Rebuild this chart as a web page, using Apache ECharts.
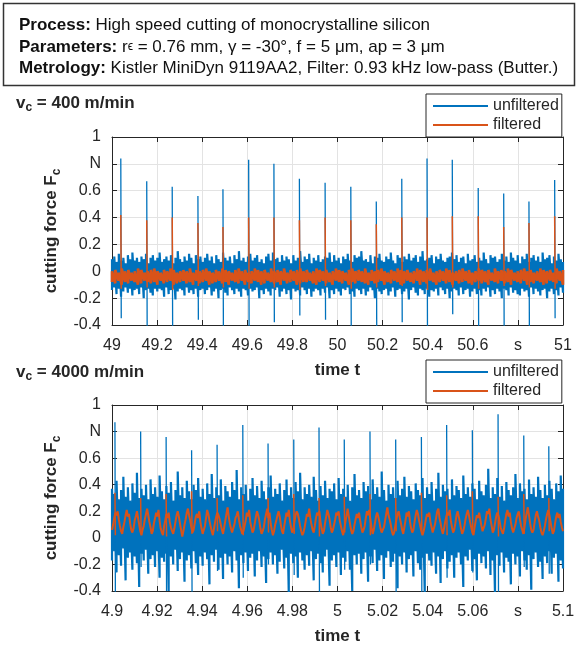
<!DOCTYPE html>
<html>
<head>
<meta charset="utf-8">
<script src="https://cdn.jsdelivr.net/npm/echarts@6.0.0/dist/echarts.min.js"></script>
<style>
html, body { margin: 0; padding: 0; background: #fff; }
#chart { width: 579px; height: 646px; }
</style>
</head>
<body>
<div id="chart"></div>
<script>
// panel 1: vc = 400 m/min, 49 .. 51 s
// the records are far denser than the screen, so they are read as
// upper / lower envelope per ~2 px column
var range1 = [49, 51];
var rawHi1 = [
0.09,0.11,0.07,0.13,0.08,0.10,0.06,0.12,0.09,0.14,0.08,0.10,0.07,0.11,0.09,0.13,0.06,0.10,0.12,0.08,
0.10,0.14,0.07,0.09,0.11,0.08,0.12,0.06,0.10,0.15,0.09,0.07,0.11,0.08,0.13,0.10,0.06,0.12,0.09,0.11,
0.07,0.10,0.13,0.08,0.11,0.06,0.12,0.09,0.07,0.14,0.10,0.08,0.11,0.06,0.12,0.09,0.15,0.08,0.10,0.07,
0.11,0.13,0.08,0.10,0.12,0.07,0.09,0.06,0.11,0.13,0.08,0.14,0.09,0.10,0.07,0.12,0.08,0.11,0.09,0.06,
0.12,0.08,0.10,0.15,0.07,0.11,0.09,0.13,0.06,0.10,0.08,0.12,0.07,0.09,0.11,0.10,0.14,0.07,0.12,0.08,
0.10,0.06,0.11,0.09,0.13,0.08,0.07,0.12,0.10,0.11,0.15,0.08,0.09,0.07,0.12,0.06,0.11,0.10,0.13,0.08,
0.07,0.11,0.09,0.14,0.08,0.06,0.12,0.10,0.07,0.11,0.09,0.13,0.08,0.10,0.12,0.07,0.11,0.15,0.08,0.09,
0.10,0.12,0.06,0.11,0.09,0.13,0.08,0.07,0.10,0.11,0.14,0.09,0.12,0.07,0.10,0.11,0.06,0.13,0.08,0.09,
0.12,0.07,0.10,0.08,0.14,0.09,0.06,0.12,0.10,0.11,0.07,0.09,0.13,0.08,0.11,0.07,0.14,0.10,0.08,0.12,
0.06,0.11,0.09,0.13,0.07,0.10,0.12,0.08,0.11,0.07,0.14,0.09,0.10,0.12,0.06,0.11,0.08,0.13,0.09,0.07
];
var rawLo1 = [
-0.14,-0.12,-0.17,-0.13,-0.19,-0.15,-0.12,-0.16,-0.13,-0.18,-0.14,-0.13,-0.17,-0.12,-0.20,-0.14,-0.13,-0.16,-0.18,-0.13,
-0.15,-0.13,-0.14,-0.19,-0.12,-0.17,-0.14,-0.13,-0.21,-0.15,-0.13,-0.14,-0.18,-0.12,-0.16,-0.14,-0.17,-0.13,-0.19,-0.14,
-0.13,-0.17,-0.14,-0.12,-0.18,-0.15,-0.13,-0.20,-0.14,-0.13,-0.16,-0.18,-0.12,-0.14,-0.17,-0.13,-0.15,-0.19,-0.13,-0.14,
-0.18,-0.13,-0.15,-0.14,-0.12,-0.20,-0.14,-0.17,-0.13,-0.15,-0.18,-0.13,-0.14,-0.12,-0.19,-0.15,-0.13,-0.17,-0.14,-0.21,
-0.13,-0.15,-0.14,-0.18,-0.12,-0.14,-0.17,-0.13,-0.19,-0.15,-0.13,-0.14,-0.18,-0.13,-0.16,-0.12,-0.20,-0.14,-0.17,-0.13,
-0.15,-0.18,-0.13,-0.14,-0.12,-0.17,-0.15,-0.19,-0.13,-0.14,-0.17,-0.13,-0.18,-0.15,-0.12,-0.14,-0.20,-0.13,-0.15,-0.17,
-0.14,-0.13,-0.18,-0.15,-0.12,-0.19,-0.14,-0.13,-0.17,-0.15,-0.13,-0.21,-0.14,-0.12,-0.16,-0.18,-0.13,-0.14,-0.17,-0.13,
-0.19,-0.14,-0.15,-0.13,-0.18,-0.12,-0.14,-0.17,-0.13,-0.20,-0.15,-0.13,-0.14,-0.18,-0.12,-0.17,-0.14,-0.13,-0.19,-0.15,
-0.13,-0.17,-0.14,-0.18,-0.13,-0.15,-0.12,-0.19,-0.14,-0.17,-0.13,-0.15,-0.20,-0.13,-0.14,-0.18,-0.12,-0.16,-0.14,-0.17,
-0.18,-0.13,-0.15,-0.14,-0.19,-0.12,-0.17,-0.13,-0.15,-0.18,-0.14,-0.13,-0.20,-0.15,-0.13,-0.17,-0.14,-0.18,-0.12,-0.16
];
var filtHi1 = [
0.00,0.01,-0.01,0.02,0.00,0.01,-0.01,0.00,0.02,0.01,-0.01,0.00,0.01,0.02,0.00,-0.01,0.01,0.00,0.02,0.01,
-0.01,0.00,0.01,0.00,0.02,-0.01,0.01,0.00,0.01,0.02,0.00,-0.01,0.01,0.00,0.02,0.01,0.00,-0.01,0.01,0.02,
0.00,0.01,-0.01,0.00,0.02,0.01,0.00,0.01,-0.01,0.02,0.00,0.01,0.00,0.02,-0.01,0.01,0.00,0.01,0.02,0.00,
0.01,-0.01,0.00,0.02,0.01,0.00,0.01,-0.01,0.00,0.02,0.01,0.00,-0.01,0.01,0.02,0.00,0.01,0.00,0.02,-0.01,
0.01,0.00,0.01,0.02,0.00,-0.01,0.01,0.00,0.02,0.01,0.00,0.01,-0.01,0.00,0.02,0.01,0.00,0.01,0.02,-0.01,
0.00,0.01,0.00,0.02,0.01,-0.01,0.00,0.01,0.02,0.00,0.01,-0.01,0.00,0.02,0.01,0.00,0.01,-0.01,0.02,0.00,
0.01,0.00,0.02,0.01,-0.01,0.00,0.01,0.02,0.00,0.01,-0.01,0.00,0.02,0.01,0.00,0.01,-0.01,0.02,0.00,0.01
];
var filtLo1 = [
-0.08,-0.09,-0.07,-0.10,-0.08,-0.09,-0.07,-0.08,-0.10,-0.09,-0.07,-0.08,-0.09,-0.08,-0.10,-0.07,-0.09,-0.08,-0.07,-0.10,
-0.09,-0.08,-0.07,-0.09,-0.08,-0.10,-0.07,-0.09,-0.08,-0.07,-0.10,-0.09,-0.08,-0.07,-0.09,-0.08,-0.10,-0.07,-0.08,-0.09,
-0.07,-0.10,-0.08,-0.09,-0.07,-0.08,-0.10,-0.09,-0.07,-0.08,-0.09,-0.08,-0.10,-0.07,-0.09,-0.08,-0.07,-0.10,-0.09,-0.08,
-0.08,-0.07,-0.09,-0.10,-0.08,-0.07,-0.09,-0.08,-0.10,-0.07,-0.08,-0.09,-0.07,-0.10,-0.08,-0.09,-0.07,-0.08,-0.09,-0.10,
-0.07,-0.09,-0.08,-0.07,-0.10,-0.08,-0.09,-0.07,-0.08,-0.10,-0.09,-0.07,-0.08,-0.09,-0.07,-0.10,-0.08,-0.09,-0.07,-0.08,
-0.10,-0.08,-0.07,-0.09,-0.08,-0.10,-0.07,-0.09,-0.08,-0.07,-0.09,-0.10,-0.08,-0.07,-0.09,-0.08,-0.10,-0.07,-0.08,-0.09,
-0.07,-0.09,-0.08,-0.10,-0.07,-0.08,-0.09,-0.07,-0.10,-0.08,-0.09,-0.07,-0.08,-0.10,-0.09,-0.07,-0.08,-0.09,-0.07,-0.10
];
var spikeT1 = [49.039, 49.154, 49.267, 49.381, 49.492, 49.606, 49.718, 49.831, 49.945, 50.059, 50.172, 50.285, 50.397, 50.509, 50.624, 50.737, 50.849, 50.963];
var rawPeak1 = [0.84, 0.67, 0.63, 0.56, 0.61, 0.83, 0.80, 0.69, 0.66, 0.63, 0.52, 0.69, 0.84, 0.83, 0.62, 0.58, 0.52, 0.68];
var rawDip1 = [-0.35, -0.45, -0.45, -0.36, -0.42, -0.45, -0.38, -0.33, -0.36, -0.45, -0.45, -0.38, -0.45, -0.32, -0.45, -0.42, -0.45, -0.35];
var filtPeak1 = [0.42, 0.38, 0.40, 0.36, 0.33, 0.40, 0.40, 0.38, 0.40, 0.38, 0.35, 0.40, 0.40, 0.41, 0.41, 0.33, 0.36, 0.41];
var filtDip1 = [-0.13, -0.12, -0.14, -0.11, -0.12, -0.13, -0.12, -0.14, -0.11, -0.13, -0.12, -0.11, -0.14, -0.12, -0.13, -0.11, -0.12, -0.13];

// panel 2: vc = 4000 m/min, 4.9 .. 5.1 s
var range2 = [4.9, 5.1];
var rawHi2 = [
0.37,0.33,0.43,0.29,0.36,0.46,0.31,0.38,0.28,0.41,0.34,0.49,0.30,0.37,0.32,0.40,0.29,0.44,0.33,0.38,
0.31,0.47,0.35,0.29,0.39,0.34,0.42,0.28,0.36,0.50,0.32,0.38,0.30,0.43,0.35,0.29,0.40,0.36,0.45,0.31,
0.37,0.29,0.41,0.33,0.48,0.30,0.38,0.32,0.44,0.28,0.39,0.35,0.31,0.42,0.36,0.51,0.29,0.38,0.33,0.40,
0.28,0.37,0.45,0.32,0.39,0.30,0.43,0.35,0.29,0.38,0.47,0.31,0.37,0.33,0.41,0.28,0.36,0.44,0.32,0.38,
0.30,0.42,0.35,0.49,0.29,0.38,0.33,0.40,0.31,0.46,0.36,0.28,0.39,0.32,0.43,0.30,0.37,0.35,0.41,0.29,
0.45,0.33,0.37,0.31,0.40,0.28,0.38,0.48,0.32,0.36,0.30,0.42,0.35,0.39,0.29,0.44,0.33,0.38,0.31,0.50,
0.36,0.28,0.40,0.33,0.38,0.30,0.43,0.32,0.37,0.46,0.31,0.39,0.35,0.29,0.41,0.36,0.32,0.45,0.30,0.38,
0.33,0.42,0.28,0.37,0.49,0.31,0.40,0.35,0.37,0.29,0.44,0.32,0.39,0.36,0.30,0.47,0.33,0.38,0.31,0.41,
0.37,0.29,0.43,0.35,0.32,0.40,0.52,0.30,0.38,0.33,0.45,0.31,0.39,0.28,0.42,0.36,0.32,0.38,0.48,0.30,
0.41,0.35,0.37,0.29,0.44,0.33,0.38,0.31,0.46,0.36,0.30,0.40,0.32,0.43,0.37,0.29,0.41,0.35,0.47,0.37
];
var rawLo2 = [
-0.17,-0.10,-0.26,-0.13,-0.21,-0.08,-0.32,-0.15,-0.11,-0.24,-0.14,-0.19,-0.37,-0.12,-0.17,-0.09,-0.27,-0.16,-0.13,-0.22,
-0.10,-0.30,-0.15,-0.18,-0.12,-0.40,-0.14,-0.20,-0.09,-0.25,-0.16,-0.11,-0.33,-0.17,-0.13,-0.23,-0.10,-0.19,-0.28,-0.14,
-0.21,-0.11,-0.16,-0.35,-0.13,-0.18,-0.09,-0.24,-0.15,-0.31,-0.12,-0.20,-0.14,-0.26,-0.10,-0.17,-0.38,-0.13,-0.19,-0.11,
-0.25,-0.15,-0.12,-0.29,-0.17,-0.10,-0.22,-0.14,-0.34,-0.16,-0.11,-0.20,-0.13,-0.27,-0.18,-0.09,-0.23,-0.15,-0.42,-0.12,
-0.19,-0.14,-0.30,-0.11,-0.17,-0.24,-0.13,-0.21,-0.10,-0.32,-0.16,-0.12,-0.19,-0.26,-0.14,-0.09,-0.36,-0.17,-0.13,-0.22,
-0.11,-0.28,-0.15,-0.18,-0.10,-0.24,-0.40,-0.13,-0.20,-0.12,-0.27,-0.16,-0.11,-0.33,-0.14,-0.19,-0.09,-0.25,-0.17,-0.13,
-0.31,-0.15,-0.10,-0.22,-0.18,-0.12,-0.38,-0.14,-0.20,-0.11,-0.26,-0.16,-0.13,-0.29,-0.10,-0.19,-0.24,-0.15,-0.42,-0.12,
-0.17,-0.21,-0.11,-0.27,-0.14,-0.34,-0.16,-0.10,-0.23,-0.18,-0.13,-0.30,-0.15,-0.11,-0.20,-0.37,-0.14,-0.17,-0.09,-0.25,
-0.16,-0.32,-0.12,-0.19,-0.14,-0.23,-0.10,-0.28,-0.17,-0.43,-0.13,-0.21,-0.11,-0.26,-0.15,-0.18,-0.35,-0.12,-0.20,-0.14,
-0.29,-0.10,-0.17,-0.24,-0.13,-0.39,-0.16,-0.11,-0.22,-0.18,-0.31,-0.14,-0.19,-0.10,-0.27,-0.15,-0.12,-0.33,-0.17,-0.23
];
var filtWave2 = [
0.06,0.10,0.15,0.19,0.17,0.20,0.14,0.09,0.05, 0.03,0.08,0.12,0.17,0.21,0.16,0.18,0.11,0.06,
0.04,0.07,0.13,0.16,0.20,0.15,0.10,0.05,0.02,0.06, 0.09,0.14,0.18,0.22,0.17,0.12,0.08,0.03,
0.05,0.11,0.15,0.19,0.16,0.21,0.13,0.07,0.04, 0.02,0.09,0.13,0.18,0.15,0.19,0.12,0.08,0.05,0.03,
0.07,0.12,0.17,0.20,0.16,0.11,0.06,0.01, 0.05,0.10,0.14,0.19,0.22,0.17,0.13,0.08,0.04,
0.06,0.11,0.16,0.18,0.15,0.20,0.12,0.07,0.03, 0.04,0.09,0.15,0.21,0.18,0.13,0.09,0.05,0.02,
0.07,0.12,0.16,0.19,0.17,0.14,0.10,0.06, 0.03,0.08,0.13,0.18,0.23,0.16,0.11,0.07,0.04,
0.05,0.10,0.15,0.17,0.20,0.14,0.09,0.06,0.03,0.05, 0.09,0.13,0.19,0.16,0.21,0.12,0.08,0.04,
0.06,0.11,0.16,0.20,0.17,0.13,0.07,0.03,0.05, 0.08,0.14,0.18,0.22,0.15,0.19,0.11,0.06,0.02,
0.05,0.10,0.13,0.17,0.20,0.16,0.10,0.05, 0.03,0.09,0.14,0.19,0.16,0.21,0.13,0.08,0.04,
0.06,0.12,0.17,0.20,0.18,0.14,0.09,0.05,0.02,0.04, 0.08,0.13,0.18,0.16,0.22,0.15,0.10,0.06,
0.04,0.09,0.15,0.19,0.17,0.20,0.12,0.07,0.03, 0.05,0.11,0.16,0.21,0.18,0.14,0.08,0.04,0.06,
0.10,0.14,0.19,0.17,0.20,0.13,0.09,0.05, 0.02,0.07,0.12,0.17,0.22,0.16,0.11,0.06,0.03,
0.05,0.10,0.14,0.18,0.15,0.19,0.13,0.08,0.04,0.06, 0.09,0.15,0.20,0.17,0.21,0.14,0.08,0.03,
0.06,0.11,0.16,0.19,0.16,0.12,0.07,0.04,0.05, 0.08,0.13,0.18,0.23,0.17,0.14,0.10,0.05,0.02,
0.04,0.09,0.14,0.18,0.20,0.15,0.11,0.06, 0.03,0.08,0.13,0.19,0.16,0.20,0.12,0.07,0.04,
0.06,0.12,0.17,0.21,0.18,0.13,0.09,0.05,0.02,0.05, 0.09,0.14,0.18,0.16,0.19,0.12,0.08,0.04,
0.05,0.10,0.15,0.20,0.22,0.15,0.11,0.06,0.03, 0.07,0.12,0.16,0.19,0.17,0.21,0.13,0.08,0.04,
0.06,0.11,0.17,0.20,0.16,0.12,0.07,0.03, 0.05,0.09,0.14,0.18,0.21,0.17,0.12,0.08,0.04,
0.02,0.08,0.13,0.17,0.15,0.19,0.14,0.09,0.05,0.06, 0.10,0.15,0.20,0.18,0.22,0.14,0.09,0.04,
0.06,0.11,0.16,0.19,0.17,0.13,0.08,0.05,0.03, 0.07,0.13,0.18,0.21,0.16,0.19,0.12,0.07,0.04,
0.05,0.10,0.15,0.18,0.20,0.14,0.09,0.06, 0.03,0.08,0.14,0.19,0.23,0.17,0.11,0.06,0.04,
0.06,0.12,0.17,0.20,0.16,0.13,0.08,0.04,0.02,0.05, 0.09,0.14,0.18,0.21,0.17,0.12,0.07,0.03,
0.05,0.11,0.16,0.19,0.15,0.18,0.12,0.08,0.05
];
var spikeT2 = [4.9013, 4.9127, 4.9240, 4.9353, 4.9466, 4.9580, 4.9692, 4.9806, 4.9918, 5.0030, 5.0144, 5.0258, 5.0372, 5.0484, 5.0598, 5.0712, 5.0826, 5.0937];
var rawPeak2 = [0.87, 0.80, 0.76, 0.66, 0.70, 0.85, 0.71, 0.74, 0.83, 0.74, 0.80, 0.74, 0.76, 0.85, 0.81, 0.93, 0.77, 0.69];
var rawDip2 = [-0.42, -0.22, -0.40, -0.41, -0.25, -0.30, -0.20, -0.28, -0.42, -0.24, -0.20, -0.42, -0.43, -0.30, -0.26, -0.42, -0.22, -0.27];
var filtPeak2 = [0.34, 0.30, 0.33, 0.35, 0.30, 0.32, 0.30, 0.33, 0.30, 0.31, 0.33, 0.30, 0.34, 0.32, 0.35, 0.31, 0.33, 0.30];
var filtDip2 = [0.02, 0.04, 0.01, 0.03, 0.05, 0.02, 0.04, 0.03, 0.01, 0.04, 0.02, 0.05, 0.03, 0.02, 0.04, 0.01, 0.03, 0.05];

var yTicks = { min: -0.4, max: 1, interval: 0.2 };

var BLUE = '#0072BD';
var ORANGE = '#D95319';
var INK = '#262626';
var FONT = '"Liberation Sans", Arial, Helvetica, sans-serif';

function timeAt(range, i, n) {
    return range[0] + (range[1] - range[0]) * i / (n - 1);
}

// each column drawn low -> high, then on to the next column
function envelope(range, lo, hi) {
    var pts = [];
    for (var i = 0; i < lo.length; i++) {
        var t = timeAt(range, i, lo.length);
        pts.push([t, lo[i]]);
        pts.push([t, hi[i]]);
    }
    return pts;
}

function trace(range, vals) {
    var pts = [];
    for (var i = 0; i < vals.length; i++) {
        pts.push([timeAt(range, i, vals.length), vals[i]]);
    }
    return pts;
}

// one stroke per impact, peak down to the rebound, broken between impacts
function spikes(spT, spHi, spLo, gap) {
    var pts = [];
    for (var k = 0; k < spT.length; k++) {
        pts.push([spT[k], spHi[k]]);
        pts.push([spT[k] + gap, spLo[k]]);
        pts.push([spT[k] + 2 * gap, null]);
    }
    return pts;
}

function near(a, b) {
    return Math.abs(a - b) < 1e-6;
}

function xAxes(g, range, interval, unitAt) {
    var fmt = function (v) {
        if (near(v, unitAt)) return 's';
        return +v.toFixed(3) + '';
    };
    return [{
        gridIndex: g, type: 'value', min: range[0], max: range[1], interval: interval,
        axisLine: { show: true, onZero: false, lineStyle: { color: INK, width: 1 } },
        axisTick: { inside: true, length: 5, lineStyle: { color: INK } },
        axisLabel: { color: INK, fontSize: 16, fontFamily: FONT, margin: 13, formatter: fmt, showMinLabel: true, showMaxLabel: true },
        splitLine: { show: true, lineStyle: { color: '#e3e3e3', width: 1 } },
        name: 'time t', nameLocation: 'middle', nameGap: 37,
        nameTextStyle: { color: INK, fontSize: 17, fontWeight: 'bold', fontFamily: FONT }
    }, {
        gridIndex: g, type: 'value', position: 'top', min: range[0], max: range[1], interval: interval,
        axisLine: { show: true, onZero: false, lineStyle: { color: INK, width: 1 } },
        axisTick: { inside: true, length: 5, lineStyle: { color: INK } },
        axisLabel: { show: false },
        splitLine: { show: false }
    }];
}

function yAxes(g) {
    var fmt = function (v) {
        if (near(v, 0.8)) return 'N';
        return +v.toFixed(2) + '';
    };
    return [{
        gridIndex: g, type: 'value', min: yTicks.min, max: yTicks.max, interval: yTicks.interval,
        axisLine: { show: true, onZero: false, lineStyle: { color: INK, width: 1 } },
        axisTick: { inside: true, length: 5, lineStyle: { color: INK } },
        axisLabel: { color: INK, fontSize: 16, fontFamily: FONT, margin: 11, formatter: fmt, showMinLabel: true, showMaxLabel: true },
        splitLine: { show: true, lineStyle: { color: '#e3e3e3', width: 1 } },
        name: '{a|cutting force F}{b|c}', nameLocation: 'middle', nameGap: 49,
        nameTextStyle: {
            rich: {
                a: { color: INK, fontSize: 17, fontWeight: 'bold', fontFamily: FONT },
                b: { color: INK, fontSize: 12, fontWeight: 'bold', fontFamily: FONT, padding: [10, 0, 0, 0] }
            }
        }
    }, {
        gridIndex: g, type: 'value', position: 'right', min: yTicks.min, max: yTicks.max, interval: yTicks.interval,
        axisLine: { show: true, onZero: false, lineStyle: { color: INK, width: 1 } },
        axisTick: { inside: true, length: 5, lineStyle: { color: INK } },
        axisLabel: { show: false },
        splitLine: { show: false }
    }];
}

function legendAt(top) {
    return {
        data: ['unfiltered', 'filtered'], orient: 'vertical', left: 426, top: top,
        icon: 'rect', itemWidth: 55, itemHeight: 2, itemGap: 3,
        padding: [4, 3, 4, 7],
        backgroundColor: '#fff', borderColor: INK, borderWidth: 1, borderRadius: 0,
        textStyle: { color: INK, fontSize: 16, fontFamily: FONT, lineHeight: 16 },
        z: 10, selectedMode: false
    };
}

function line(name, color, g, data, width) {
    return {
        name: name, type: 'line', xAxisIndex: g * 2, yAxisIndex: g * 2,
        data: data, showSymbol: false, symbol: 'none', connectNulls: false,
        lineStyle: { color: color, width: width, join: 'bevel' }, itemStyle: { color: color },
        animation: false
    };
}

var subTitle = function (txt, top) {
    return {
        text: '{v|v}{s|c}{v| = ' + txt + '}', left: 11, top: top,
        textStyle: {
            rich: {
                v: { color: INK, fontSize: 17, fontWeight: 'bold', fontFamily: FONT },
                s: { color: INK, fontSize: 12, fontWeight: 'bold', fontFamily: FONT, padding: [10, 0, 0, 0] }
            }
        }
    };
};

var chart = echarts.init(document.getElementById('chart'), null, { renderer: 'canvas' });

var option = {
    backgroundColor: '#fff',
    animation: false,
    title: [{
        text: '{b|Process:} High speed cutting of monocrystalline silicon\n' +
              '{b|Parameters:} r{e|\u03f5} = 0.76 mm, \u03b3 = -30\u00b0, f = 5 \u03bcm, ap = 3 \u03bcm\n' +
              '{b|Metrology:} Kistler MiniDyn 9119AA2, Filter: 0.93 kHz low-pass (Butter.)',
        left: 14, top: 10,
        textStyle: {
            color: '#111', fontSize: 17, fontWeight: 'normal', fontFamily: FONT, lineHeight: 21.3,
            rich: {
                b: { color: '#111', fontSize: 17, fontWeight: 'bold', fontFamily: FONT, lineHeight: 21.3 },
                e: { color: '#111', fontSize: 12, fontFamily: FONT, lineHeight: 21.3 }
            }
        }
    }, subTitle('400 m/min', 87), subTitle('4000 m/min', 356)],
    graphic: [{
        type: 'rect', shape: { x: 3.5, y: 3.5, width: 571, height: 82 },
        style: { fill: 'none', stroke: '#333', lineWidth: 1.5 }
    }],
    legend: [legendAt(94), legendAt(360)],
    grid: [
        { left: 112, top: 137, width: 451, height: 188 },
        { left: 112, top: 405, width: 451, height: 186 }
    ],
    xAxis: xAxes(0, range1, 0.2, 50.8).concat(xAxes(1, range2, 0.02, 5.08)),
    yAxis: yAxes(0).concat(yAxes(1)),
    series: [
        line('unfiltered', BLUE, 0, envelope(range1, rawLo1, rawHi1), 2.2),
        line('unfiltered', BLUE, 0, spikes(spikeT1, rawPeak1, rawDip1, 0.002), 1.3),
        line('filtered', ORANGE, 0, envelope(range1, filtLo1, filtHi1), 2.6),
        line('filtered', ORANGE, 0, spikes(spikeT1, filtPeak1, filtDip1, 0.002), 1.5),
        line('unfiltered', BLUE, 1, envelope(range2, rawLo2, rawHi2), 2.2),
        line('unfiltered', BLUE, 1, spikes(spikeT2, rawPeak2, rawDip2, 0.0002), 1.3),
        line('filtered', ORANGE, 1, trace(range2, filtWave2), 2.0),
        line('filtered', ORANGE, 1, spikes(spikeT2, filtPeak2, filtDip2, 0.0002), 1.5)
    ]
};

chart.setOption(option);
</script>
</body>
</html>
